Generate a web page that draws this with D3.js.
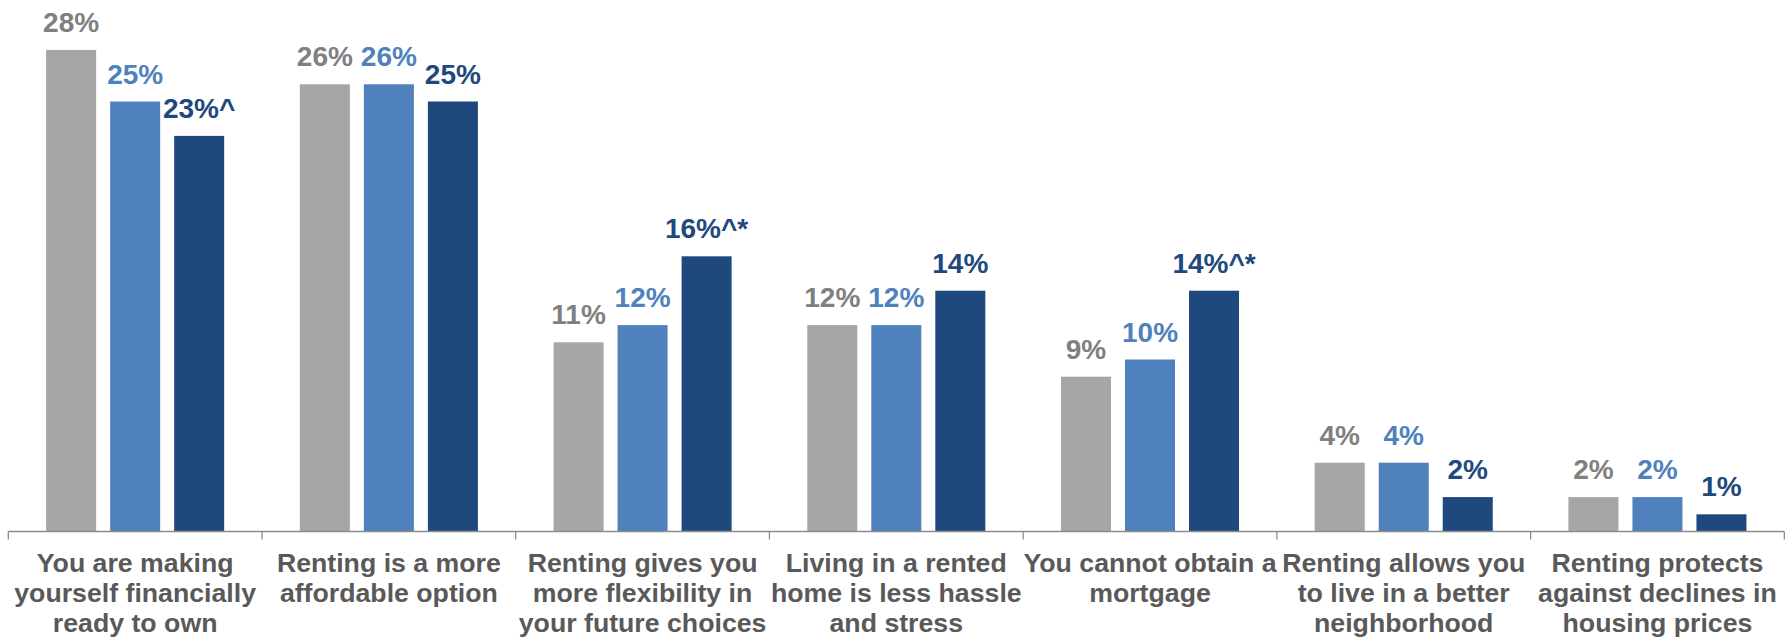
<!DOCTYPE html>
<html>
<head>
<meta charset="utf-8">
<script src="https://cdn.jsdelivr.net/npm/d3@7/dist/d3.min.js"></script>
<style>
  html, body { margin: 0; padding: 0; background: #ffffff; }
  svg { display: block; }
  text { font-family: Arial, "Liberation Sans", sans-serif; font-weight: bold; }
</style>
</head>
<body>
<svg id="chart" width="1791" height="638"></svg>
<script>
// Reasons for renting, three survey waves per reason
const categories = [
  ["You are making", "yourself financially", "ready to own"],
  ["Renting is a more", "affordable option"],
  ["Renting gives you", "more flexibility in", "your future choices"],
  ["Living in a rented", "home is less hassle", "and stress"],
  ["You cannot obtain a", "mortgage"],
  ["Renting allows you", "to live in a better", "neighborhood"],
  ["Renting protects", "against declines in", "housing prices"]
];
const seriesKeys = ["first", "second", "third"];
const firstValues  = [28, 26, 11, 12, 9, 4, 2];
const secondValues = [25, 26, 12, 12, 10, 4, 2];
const thirdValues  = [23, 25, 16, 14, 14, 2, 1];
// significance markers appended to the third series labels
const thirdMarks   = ["^", "", "^*", "", "^*", "", ""];

const barColors   = { first: "#a6a6a6", second: "#4f81bd", third: "#1f497d" };
const labelColors = { first: "#808080", second: "#4f81bd", third: "#1f497d" };

const valuesByKey = { first: firstValues, second: secondValues, third: thirdValues };
const marksByKey  = { first: categories.map(() => ""), second: categories.map(() => ""), third: thirdMarks };

const svg = d3.select("#chart");

const left = 8.3, right = 1784.3, baseline = 531.5;

const x0 = d3.scaleBand()
  .domain(d3.range(categories.length))
  .range([left, right])
  .paddingInner(0)
  .paddingOuter(0);

const x1 = d3.scaleBand()
  .domain(seriesKeys)
  .range([0, x0.bandwidth()])
  .paddingInner(0.21875)
  .paddingOuter(0.591);

const y = d3.scaleLinear()
  .domain([0, 28])
  .range([baseline, baseline - 28 * 17.2]);

const rows = categories.map((c, i) => seriesKeys.map(k => ({
  cat: i, key: k, value: valuesByKey[k][i], mark: marksByKey[k][i]
})));

const groups = svg.append("g").selectAll("g")
  .data(rows)
  .join("g")
  .attr("transform", (d, i) => `translate(${x0(i)},0)`);

groups.selectAll("rect")
  .data(d => d)
  .join("rect")
  .attr("x", d => x1(d.key))
  .attr("width", x1.bandwidth())
  .attr("y", d => y(d.value))
  .attr("height", d => y(0) - y(d.value))
  .attr("fill", d => barColors[d.key]);

groups.selectAll("text.value")
  .data(d => d)
  .join("text")
  .attr("class", "value")
  .attr("x", d => x1(d.key) + x1.bandwidth() / 2)
  .attr("y", d => y(d.value) - 18)
  .attr("text-anchor", "middle")
  .attr("font-size", 28)
  .attr("fill", d => labelColors[d.key])
  .text(d => d.value + "%" + d.mark);

// Category axis: baseline with tick marks between categories
const axis = svg.append("g").attr("stroke", "#8c8c8c").attr("stroke-width", 1.3);
axis.append("line")
  .attr("x1", left).attr("x2", right)
  .attr("y1", baseline).attr("y2", baseline);
axis.selectAll("line.tick")
  .data(d3.range(categories.length + 1))
  .join("line")
  .attr("class", "tick")
  .attr("x1", i => i < categories.length ? x0(i) : right)
  .attr("x2", i => i < categories.length ? x0(i) : right)
  .attr("y1", baseline)
  .attr("y2", baseline + 8);

svg.append("g").selectAll("text")
  .data(categories)
  .join("text")
  .attr("text-anchor", "middle")
  .attr("font-size", 26.7)
  .attr("fill", "#595959")
  .each(function(lines, i) {
    const cx = x0(i) + x0.bandwidth() / 2;
    d3.select(this).selectAll("tspan")
      .data(lines)
      .join("tspan")
      .attr("x", cx)
      .attr("y", (l, j) => 571.7 + j * 30)
      .text(l => l);
  });
</script>
</body>
</html>
